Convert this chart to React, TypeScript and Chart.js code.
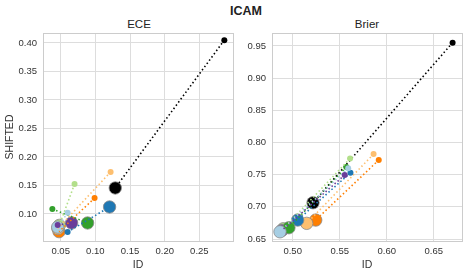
import React, { useEffect, useRef } from "react";
import { Chart, registerables } from "chart.js";
Chart.register(...registerables);

const SERIES_NAMES = ["purple", "lightblue", "blue", "lightgreen", "green", "lightorange", "orange", "black"];
const SERIES_COLORS = ["#6a3d9a", "#a6cee3", "#1f78b4", "#b2df8a", "#33a02c", "#fdbf6f", "#ff7f00", "#000000"];
// stacking of the large markers, top first
const BIG_MARKER_ORDER = ["lightblue", "green", "purple", "lightgreen", "blue", "lightorange", "orange", "black"];

// ECE panel: first (small) point and second (large) point of each series
const ECE_ID_FIRST = [0.0457, 0.060, 0.060, 0.070, 0.038, 0.122, 0.0989, 0.286];
const ECE_SHIFT_FIRST = [0.0807, 0.102, 0.0684, 0.1526, 0.1088, 0.1737, 0.128, 0.405];
const ECE_ID_SECOND = [0.0658, 0.0457, 0.1205, 0.048, 0.0888, 0.046, 0.0476, 0.1287];
const ECE_SHIFT_SECOND = [0.0842, 0.077, 0.1123, 0.080, 0.0842, 0.0745, 0.069, 0.1456];

// Brier panel
const BRIER_ID_FIRST = [0.5553, 0.559, 0.5614, 0.561, 0.557, 0.586, 0.5915, 0.670];
const BRIER_SHIFT_FIRST = [0.7495, 0.760, 0.753, 0.775, 0.762, 0.782, 0.7728, 0.955];
const BRIER_ID_SECOND = [0.4885, 0.4865, 0.5053, 0.490, 0.496, 0.5149, 0.5245, 0.5216];
const BRIER_SHIFT_SECOND = [0.6635, 0.6613, 0.6795, 0.666, 0.6676, 0.6744, 0.6795, 0.7064];

const ECE_X_TICKS = [0.05, 0.1, 0.15, 0.2, 0.25];
const ECE_Y_TICKS = [0.1, 0.15, 0.2, 0.25, 0.3, 0.35, 0.4];
const BRIER_X_TICKS = [0.5, 0.55, 0.6, 0.65];
const BRIER_Y_TICKS = [0.65, 0.7, 0.75, 0.8, 0.85, 0.9, 0.95];

const FONT = "'Liberation Sans', Arial, Helvetica, sans-serif";
const TEXT = "#333333";

const frame = {
  id: "frame",
  beforeDatasetsDraw(chart: any) {
    const { ctx, chartArea } = chart;
    ctx.save();
    ctx.strokeStyle = "#cccccc";
    ctx.lineWidth = 1;
    ctx.strokeRect(
      Math.round(chartArea.left) + 0.5,
      Math.round(chartArea.top) + 0.5,
      Math.round(chartArea.right - chartArea.left),
      Math.round(chartArea.bottom - chartArea.top)
    );
    ctx.restore();
  },
};

function buildDatasets(idA: number[], shA: number[], idB: number[], shB: number[]) {
  // lines with the small first points (drawn on top)
  const lines = SERIES_NAMES.map((name, i) => ({
    label: name + " line",
    data: [
      { x: idA[i], y: shA[i] },
      { x: idB[i], y: shB[i] },
    ],
    showLine: true,
    borderColor: SERIES_COLORS[i],
    borderWidth: 1.6,
    borderDash: [1.5, 2.5],
    backgroundColor: SERIES_COLORS[i],
    pointBackgroundColor: SERIES_COLORS[i],
    pointRadius: [3, 0],
    pointBorderWidth: 0,
    pointHoverRadius: [3, 0],
  }));
  // large second points
  const bigs = BIG_MARKER_ORDER.map((name) => {
    const i = SERIES_NAMES.indexOf(name);
    return {
      label: name + " marker",
      data: [{ x: idB[i], y: shB[i] }],
      showLine: false,
      backgroundColor: SERIES_COLORS[i],
      pointBackgroundColor: SERIES_COLORS[i],
      pointRadius: 6.2,
      pointHoverRadius: 6.2,
      pointBorderColor: "#8a8a8a",
      pointBorderWidth: 0.8,
    };
  });
  return [...lines, ...bigs];
}

function makeConfig(opts: any) {
  const tickFont = { family: FONT, size: 9.5 };
  return {
    type: "scatter",
    data: { datasets: buildDatasets(opts.idA, opts.shA, opts.idB, opts.shB) },
    plugins: [frame],
    options: {
      responsive: false,
      animation: false,
      devicePixelRatio: 1,
      layout: { padding: { left: 0, right: opts.padRight, top: 33, bottom: 0 } },
      plugins: { legend: { display: false }, tooltip: { enabled: false }, title: { display: false } },
      scales: {
        x: {
          type: "linear",
          min: opts.xMin,
          max: opts.xMax,
          afterBuildTicks: (s: any) => {
            s.ticks = opts.xTicks.map((v: number) => ({ value: v }));
          },
          afterFit: (s: any) => {
            s.height = 35;
          },
          grid: { color: "#dddddd", drawTicks: false, lineWidth: 1 },
          border: { display: false },
          ticks: {
            padding: 5,
            autoSkip: false,
            maxRotation: 0,
            font: tickFont,
            color: TEXT,
            callback: (v: any) => Number(v).toFixed(2),
          },
          title: {
            display: true,
            text: "ID",
            font: { family: FONT, size: 10.5 },
            color: TEXT,
            padding: { top: 0, bottom: 5 },
          },
        },
        y: {
          type: "linear",
          min: opts.yMin,
          max: opts.yMax,
          afterBuildTicks: (s: any) => {
            s.ticks = opts.yTicks.map((v: number) => ({ value: v }));
          },
          afterFit: (s: any) => {
            s.width = opts.yWidth;
          },
          grid: { color: "#dddddd", drawTicks: false, lineWidth: 1 },
          border: { display: false },
          ticks: {
            padding: 6,
            autoSkip: false,
            font: tickFont,
            color: TEXT,
            callback: (v: any) => Number(v).toFixed(2),
          },
          title: {
            display: opts.yTitle !== "",
            text: opts.yTitle,
            font: { family: FONT, size: 10.5 },
            color: TEXT,
            padding: { top: 4, bottom: 0 },
          },
        },
      },
    },
  };
}

export default function App() {
  const leftRef = useRef<HTMLCanvasElement>(null);
  const rightRef = useRef<HTMLCanvasElement>(null);

  useEffect(() => {
    const c1 = new Chart(
      leftRef.current as any,
      makeConfig({
        idA: ECE_ID_FIRST,
        shA: ECE_SHIFT_FIRST,
        idB: ECE_ID_SECOND,
        shB: ECE_SHIFT_SECOND,
        xMin: 0.0245,
        xMax: 0.2985,
        yMin: 0.0526,
        yMax: 0.4175,
        xTicks: ECE_X_TICKS,
        yTicks: ECE_Y_TICKS,
        yWidth: 43,
        padRight: 5,
        yTitle: "SHIFTED",
      }) as any
    );
    const c2 = new Chart(
      rightRef.current as any,
      makeConfig({
        idA: BRIER_ID_FIRST,
        shA: BRIER_SHIFT_FIRST,
        idB: BRIER_ID_SECOND,
        shB: BRIER_SHIFT_SECOND,
        xMin: 0.478,
        xMax: 0.68,
        yMin: 0.647,
        yMax: 0.97,
        xTicks: BRIER_X_TICKS,
        yTicks: BRIER_Y_TICKS,
        yWidth: 32,
        padRight: 7,
        yTitle: "",
      }) as any
    );
    return () => {
      c1.destroy();
      c2.destroy();
    };
  }, []);

  const titleStyle: React.CSSProperties = {
    position: "absolute",
    fontFamily: FONT,
    color: "#222222",
    textAlign: "center",
    whiteSpace: "nowrap",
  };

  return (
    <div
      style={{
        position: "fixed",
        left: 0,
        top: 0,
        width: 469,
        height: 276,
        background: "#ffffff",
        overflow: "hidden",
      }}
    >
      <div style={{ ...titleStyle, left: 196, width: 100, top: 4, height: 14, lineHeight: "14px", fontSize: 12.5, fontWeight: "bold" }}>
        ICAM
      </div>
      <div style={{ ...titleStyle, left: 89, width: 100, top: 17, height: 14, lineHeight: "14px", fontSize: 11.5 }}>
        ECE
      </div>
      <div style={{ ...titleStyle, left: 317, width: 100, top: 17, height: 14, lineHeight: "14px", fontSize: 11.5 }}>
        Brier
      </div>
      <canvas ref={leftRef} width={240} height={276} style={{ position: "absolute", left: 0, top: 0, width: 240, height: 276 }} />
      <canvas ref={rightRef} width={229} height={276} style={{ position: "absolute", left: 240, top: 0, width: 229, height: 276 }} />
    </div>
  );
}
